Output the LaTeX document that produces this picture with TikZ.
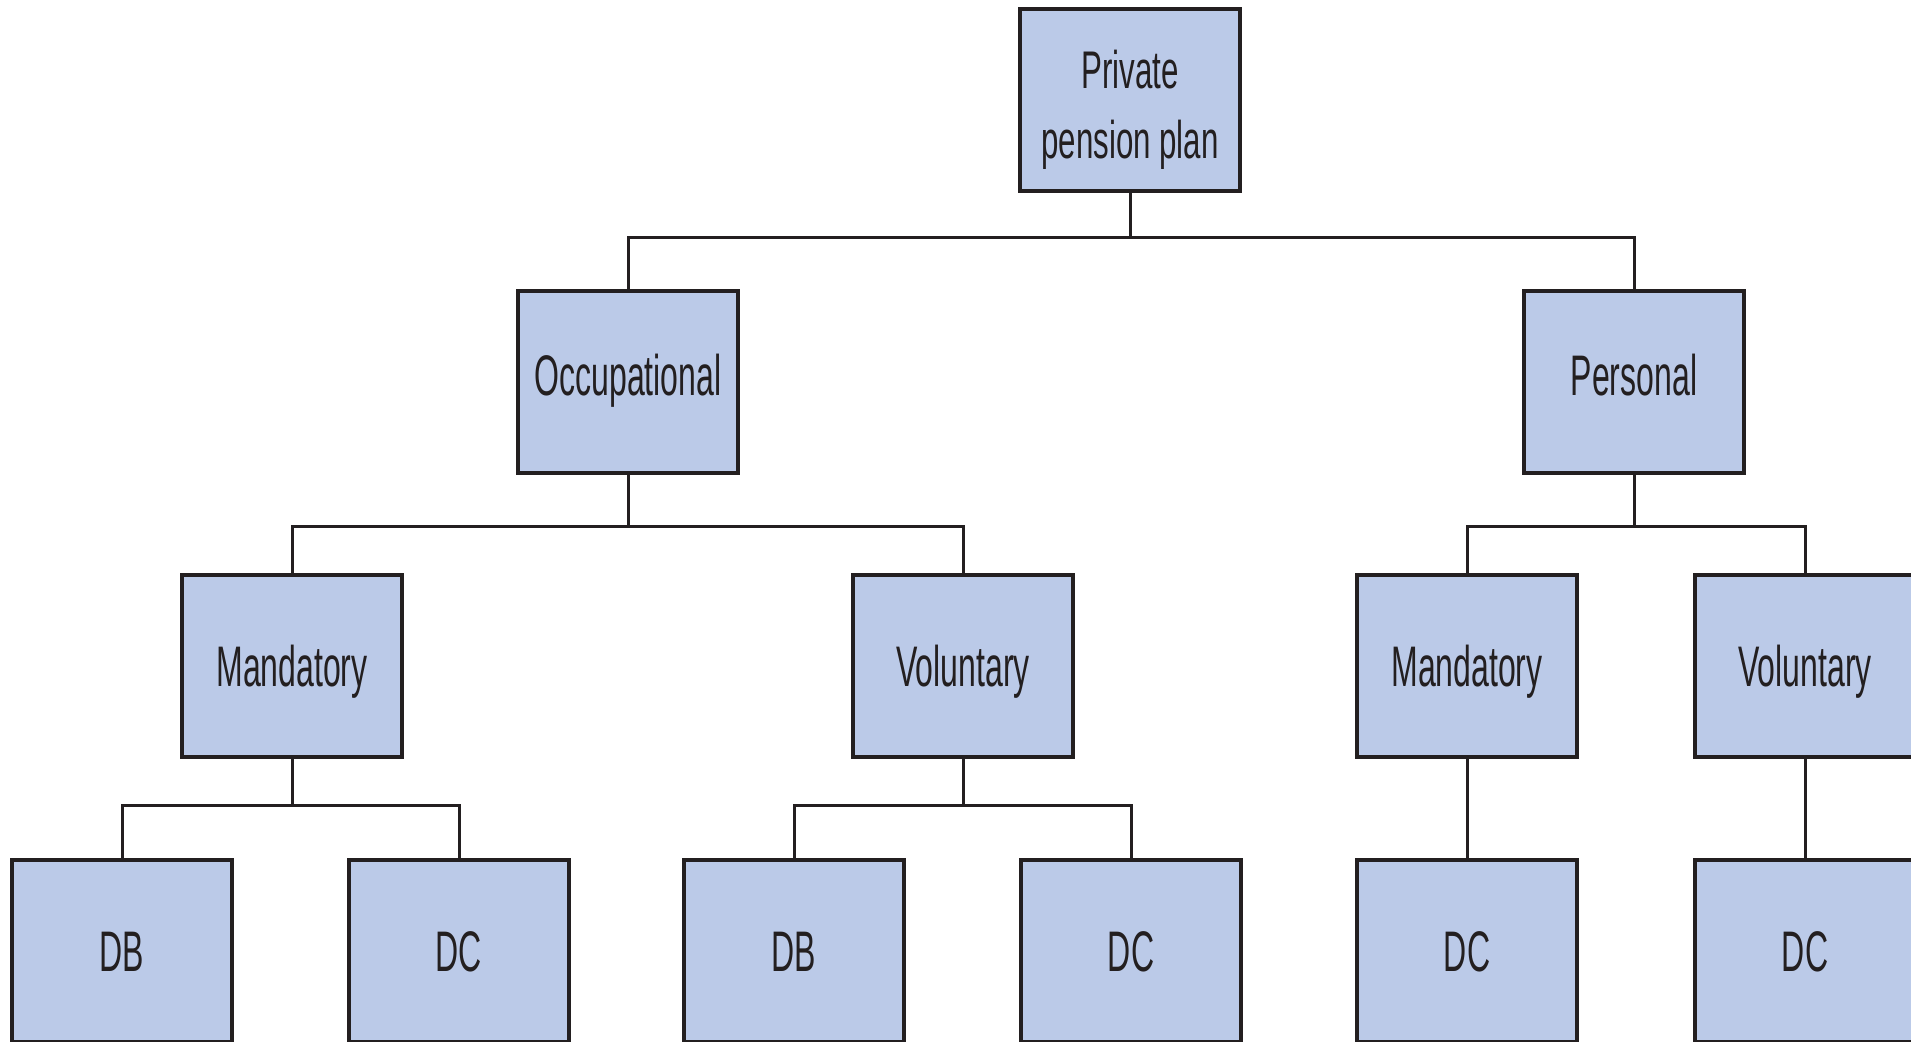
\documentclass[tikz,border=0pt]{standalone}
\usepackage{fontspec}
\setmainfont[FakeStretch=0.56]{Liberation Sans}
\newfontfamily\rootfont[FakeStretch=0.59]{Liberation Sans}
\definecolor{boxfill}{RGB}{187,202,232}
\definecolor{ink}{RGB}{35,31,32}
\begin{document}
\begin{tikzpicture}[x=0.5pt,y=-0.5pt,
  pbox/.style={draw=ink, line width=2pt, fill=boxfill, minimum width=110pt, minimum height=91pt,
    inner sep=0pt, align=center, text=ink, font=\fontsize{28.6pt}{33.5pt}\selectfont,
    text height=20.5pt, text depth=0pt},
  lvltwo/.style={text depth=7pt},
  rootbox/.style={draw=ink, line width=2pt, fill=boxfill, minimum width=110pt, minimum height=91pt,
    inner sep=0pt, align=center, text=ink, font=\rootfont\fontsize{26.5pt}{35pt}\selectfont},
  conn/.style={draw=ink, line width=1.5pt}]
\useasboundingbox (0,0) rectangle (1911,1041);
\clip (0,0) rectangle (1911,1041);
\fill[white] (0,0) rectangle (1911,1041);
\coordinate (b1) at (0,237);
\coordinate (b2) at (0,526);
\coordinate (b3) at (0,805);
% nodes
\node[rootbox] (root) at (1130,100) {\rule{0pt}{29pt}Private\\pension plan};
\node[pbox,lvltwo] (occ) at (628,382) {Occupational};
\node[pbox,lvltwo] (pers) at (1634,382) {Personal};
\node[pbox] (mandO) at (292,666) {Mandatory};
\node[pbox] (volO) at (963,666) {Voluntary};
\node[pbox] (mandP) at (1467,666) {Mandatory};
\node[pbox] (volP) at (1805,666) {Voluntary};
\node[pbox] (db1) at (122,951) {DB};
\node[pbox] (dc1) at (459,951) {DC};
\node[pbox] (db2) at (794,951) {DB};
\node[pbox] (dc2) at (1131,951) {DC};
\node[pbox] (dc3) at (1467,951) {DC};
\node[pbox] (dc4) at (1805,951) {DC};
% connectors
\draw[conn] (root.south) -- (root.south |- b1);
\draw[conn] (occ.north) |- (pers.north |- b1) -- (pers.north);
\draw[conn] (occ.south) -- (occ.south |- b2);
\draw[conn] (mandO.north) |- (volO.north |- b2) -- (volO.north);
\draw[conn] (pers.south) -- (pers.south |- b2);
\draw[conn] (mandP.north) |- (volP.north |- b2) -- (volP.north);
\draw[conn] (mandO.south) -- (mandO.south |- b3);
\draw[conn] (db1.north) |- (dc1.north |- b3) -- (dc1.north);
\draw[conn] (volO.south) -- (volO.south |- b3);
\draw[conn] (db2.north) |- (dc2.north |- b3) -- (dc2.north);
\draw[conn] (mandP.south) -- (dc3.north);
\draw[conn] (volP.south) -- (dc4.north);
\end{tikzpicture}
\end{document}
